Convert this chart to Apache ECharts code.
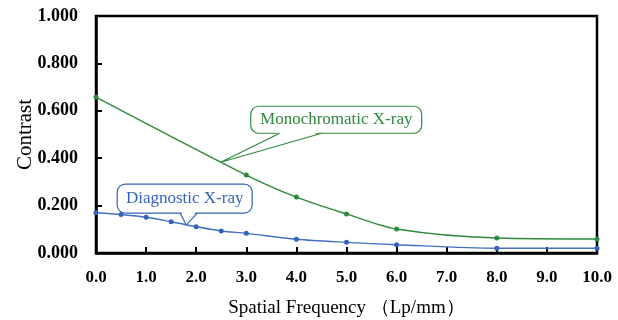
<!DOCTYPE html>
<html>
<head>
<meta charset="utf-8">
<script src="https://cdn.jsdelivr.net/npm/echarts@6/dist/echarts.min.js"></script>
<style>
  html, body { margin: 0; padding: 0; background: #fff; }
  #chart { width: 618px; height: 320px; }
</style>
</head>
<body>
<div id="chart"></div>
<script>
// 诊断用X射线
const freqDiag = [0, 0.5, 1.0, 1.5, 2.0, 2.5, 3.0, 4.0, 5.0, 6.0, 8.0, 10.0];
const contrastDiag = [0.170, 0.162, 0.151, 0.132, 0.111, 0.093, 0.083, 0.058, 0.045, 0.035, 0.020, 0.020];
// 单色X射线
const freqMono = [0, 3.0, 4.0, 5.0, 6.0, 8.0, 10.0];
const contrastMono = [0.658, 0.329, 0.236, 0.165, 0.101, 0.063, 0.059];

const xTicks = [0, 1, 2, 3, 4, 5, 6, 7, 8, 9, 10];
const yTicks = [0, 0.2, 0.4, 0.6, 0.8, 1.0];

const serif = "'Times New Roman', 'Liberation Serif', serif";
const green = "#2f8a3f";
const blue = "#3563b8";

const chart = echarts.init(document.getElementById("chart"));

const option = {
  animation: false,
  grid: {
    left: 96, right: 21, top: 16, bottom: 67,
    outerBoundsMode: "none",
    show: true, borderColor: "#000", borderWidth: 2.5,
  },
  xAxis: {
    type: "value",
    min: xTicks[0], max: xTicks[xTicks.length - 1], interval: 1,
    name: "Spatial Frequency （Lp/mm）",
    nameLocation: "middle", nameGap: 46, nameMoveOverlap: false,
    nameTextStyle: { fontFamily: serif, fontSize: 19, color: "#000" },
    axisLine: { show: true, lineStyle: { color: "#000", width: 2.5 } },
    axisTick: { show: true, inside: true, length: 6, lineStyle: { color: "#000", width: 2 } },
    axisLabel: {
      margin: 16, fontFamily: serif, fontSize: 17, fontWeight: "bold", color: "#000",
      formatter: (v) => v.toFixed(1),
    },
    splitLine: { show: false },
  },
  yAxis: {
    type: "value",
    min: yTicks[0], max: yTicks[yTicks.length - 1], interval: 0.2,
    name: "Contrast",
    nameLocation: "middle", nameGap: 60, nameMoveOverlap: false,
    nameTextStyle: { fontFamily: serif, fontSize: 21, color: "#000" },
    axisLine: { show: true, lineStyle: { color: "#000", width: 2.5 } },
    axisTick: { show: true, inside: true, length: 6, lineStyle: { color: "#000", width: 2 } },
    axisLabel: {
      margin: 18, fontFamily: serif, fontSize: 18, fontWeight: "bold", color: "#000",
      formatter: (v) => v.toFixed(3),
    },
    splitLine: { show: false },
  },
  series: [
    {
      name: "Monochromatic X-ray",
      type: "line",
      smooth: 0.3,
      clip: false,
      data: freqMono.map((x, i) => [x, contrastMono[i]]),
      symbol: "circle", symbolSize: 5,
      lineStyle: { color: green, width: 1.4 },
      itemStyle: { color: green },
    },
    {
      name: "Diagnostic X-ray",
      type: "line",
      smooth: 0.3,
      clip: false,
      data: freqDiag.map((x, i) => [x, contrastDiag[i]]),
      symbol: "circle", symbolSize: 5,
      lineStyle: { color: "#4470c4", width: 1.4 },
      itemStyle: { color: blue },
    },
  ],
};
chart.setOption(option);

// 标注气泡: 尖端位置为数据坐标, 其余为像素偏移
const callouts = [
  { text: "Monochromatic X-ray", color: green, tip: [2.49, 0.383],
    box: [30, -56, 171, 27], base: [59, 101] },
  { text: "Diagnostic X-ray", color: blue, tip: [1.80, 0.118],
    box: [-69, -41, 135, 29], base: [-6, 11] },
];

function buildCallouts() {
  const els = [];
  callouts.forEach((c) => {
    const p = chart.convertToPixel({ gridIndex: 0 }, c.tip);
    const bx = p[0] + c.box[0], by = p[1] + c.box[1];
    const bw = c.box[2], bh = c.box[3];
    const baseY = by + bh;
    els.push({
      type: "rect",
      shape: { x: bx, y: by, width: bw, height: bh, r: 8 },
      style: { fill: "#fff", stroke: c.color, lineWidth: 1.2 },
      z: 10,
    });
    els.push({
      type: "polygon",
      shape: { points: [[p[0] + c.base[0] + 1, baseY - 1.5], [p[0] + c.base[1] - 1, baseY - 1.5], [p[0], p[1]]] },
      style: { fill: "#fff" },
      z: 11,
    });
    els.push({
      type: "polyline",
      shape: { points: [[p[0] + c.base[0], baseY], [p[0], p[1]], [p[0] + c.base[1], baseY]] },
      style: { stroke: c.color, lineWidth: 1.2, fill: null },
      z: 12,
    });
    els.push({
      type: "text",
      style: {
        text: c.text, x: bx + bw / 2, y: by + bh / 2,
        align: "center", verticalAlign: "middle",
        fontFamily: serif, fontSize: 17, fill: c.color,
      },
      z: 13,
    });
  });
  chart.setOption({ graphic: { elements: els } });
}
buildCallouts();

window.addEventListener("resize", () => {
  chart.resize();
  buildCallouts();
});
</script>
</body>
</html>
